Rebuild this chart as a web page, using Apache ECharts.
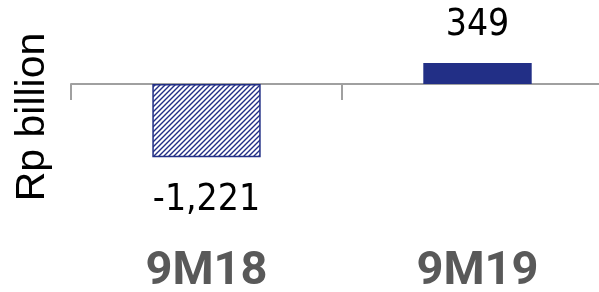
<!DOCTYPE html>
<html lang="en">
<head>
    <meta charset="UTF-8"/>
    <title>Rp billion</title>
    <script src="https://cdn.jsdelivr.net/npm/echarts@6/dist/echarts.min.js"></script>
    <style>
        html, body { margin: 0; padding: 0; background: #fff; }
    </style>
</head>
<body>
<div id="main" style="width:599px;height:292px;"></div>

<script type="text/javascript">
    // data
    var periods = ['9M18', '9M19'];
    var profit = [-1221, 349];
    var unitName = 'Rp billion';

    var navy = '#222f86';
    var numFont = '"DejaVu Sans Condensed", Roboto, sans-serif';

    // hatch tile for the negative bar
    var tile = document.createElement('canvas');
    tile.width = 5;
    tile.height = 5;
    var ctx = tile.getContext('2d');
    ctx.fillStyle = '#fff';
    ctx.fillRect(0, 0, 5, 5);
    ctx.strokeStyle = navy;
    ctx.lineWidth = 1.4;
    ctx.beginPath();
    ctx.moveTo(-1, 6); ctx.lineTo(6, -1);
    ctx.moveTo(-1, 1); ctx.lineTo(1, -1);
    ctx.moveTo(4, 6); ctx.lineTo(6, 4);
    ctx.stroke();

    var barData = profit.map(function (v) {
        if (v < 0) {
            return {
                value: v,
                itemStyle: {color: {image: tile, repeat: 'repeat'}, borderColor: navy, borderWidth: 1.5},
                label: {position: 'bottom', distance: 25}
            };
        }
        return {value: v, label: {position: 'top', distance: 19}};
    });

    var myChart = echarts.init(document.getElementById('main'));
    var option = {
        animation: false,
        grid: {left: 71, right: -14, top: 0, bottom: 58, outerBoundsMode: 'none', containLabel: false},
        xAxis: [{
            type: 'category',
            data: periods,
            axisLine: {onZero: true, lineStyle: {color: '#a0a0a0', width: 2}},
            axisTick: {show: true, interval: 0, length: 16, lineStyle: {color: '#a0a0a0', width: 2}},
            axisLabel: {show: false}
        }, {
            // bottom copy of the axis, only for the period labels
            type: 'category',
            data: periods,
            position: 'bottom',
            axisLine: {show: false, onZero: false},
            axisTick: {show: false},
            axisLabel: {
                show: true,
                interval: 0,
                margin: 15,
                color: '#595959',
                fontFamily: 'Roboto',
                fontWeight: 'bold',
                fontSize: 47
            }
        }],
        yAxis: {
            type: 'value',
            min: -2500,
            max: 1400,
            name: unitName,
            nameLocation: 'middle',
            nameRotate: 90,
            nameGap: 18,
            nameTextStyle: {color: '#000', fontFamily: 'Liberation Sans', fontSize: 41},
            axisLine: {show: false},
            axisTick: {show: false},
            axisLabel: {show: false},
            splitLine: {show: false}
        },
        series: [{
            type: 'bar',
            data: barData,
            barWidth: '40%',
            itemStyle: {color: navy},
            label: {
                show: true,
                color: '#000',
                fontFamily: numFont,
                fontSize: 37,
                formatter: function (p) {
                    return p.value.toLocaleString('en-US');
                }
            }
        }]
    };
    myChart.setOption(option);
</script>
</body>
</html>
